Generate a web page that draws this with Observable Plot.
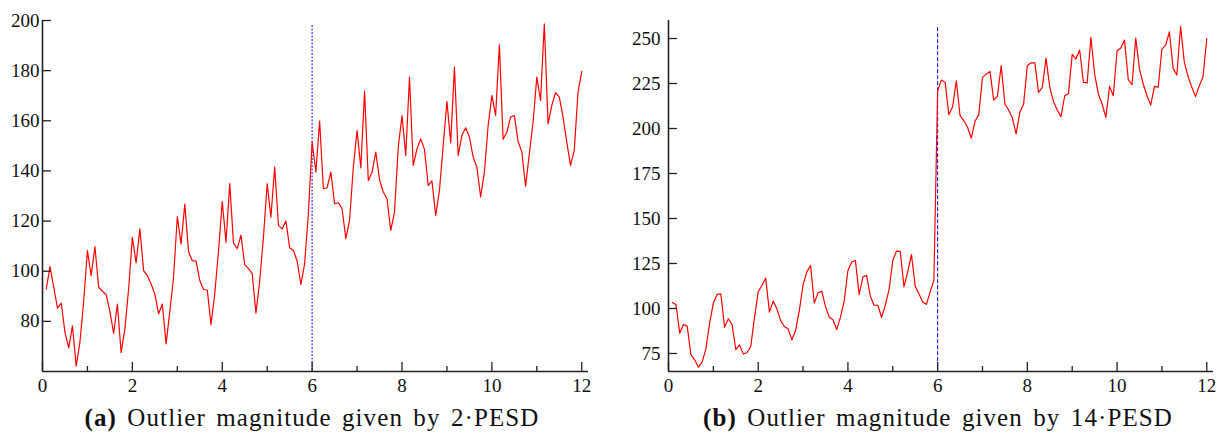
<!DOCTYPE html>
<html><head><meta charset="utf-8">
<script src="https://cdn.jsdelivr.net/npm/d3@7"></script>
<script src="https://cdn.jsdelivr.net/npm/@observablehq/plot@0.6"></script>
<style>
body{margin:0;background:#fff;}
#wrap{position:relative;width:1230px;height:436px;overflow:hidden;}
#pa{position:absolute;left:0;top:0;}
#pb{position:absolute;left:615px;top:0;}
svg text{font-family:"Liberation Serif",serif !important;}
.cap{position:absolute;top:404px;font-family:"Liberation Serif",serif;font-size:25px;line-height:28px;letter-spacing:1.1px;word-spacing:3px;white-space:nowrap;transform:translateX(-50%);color:#111;}
</style></head><body>
<div id="wrap"><div id="pa"></div><div id="pb"></div>
<div class="cap" style="left:312px"><b>(a)</b> Outlier magnitude given by 2·PESD</div>
<div class="cap" style="left:938px"><b>(b)</b> Outlier magnitude given by 14·PESD</div>
</div>
<script>
const valuesA = [92.9,101.8,93.6,85.3,87.3,75.6,69.4,78.2,62.1,71.8,88,108.2,
98.2,109.8,93.6,92.0,90.7,84.0,75.2,86.9,67.5,77,93,113.5,
103.3,116.9,100.2,98.2,94.9,90.9,83,86.9,71,84,97.6,121.8,
110.9,126.8,107.8,104.2,104,96.3,92.7,92.5,78.7,91,108,127.8,
111.6,134.9,111.2,109,114.4,102.6,101,99,83.3,96,113.6,134.9,
121.6,141.5,118.3,116.9,120,109.4,108.3,104,94.7,103,122.9,151.5,
139.5,159.9,132.9,133.3,139.5,126.9,127.3,124.9,113,120.3,141.5,156.1,
141.2,171.8,136.2,139.5,147.5,136.5,131.6,128.9,116.3,123.6,149.5,162.1,
146.2,177.4,142.2,148.8,152.8,148.6,134.2,136,122.2,132.2,150.2,167.7,
151.2,181.4,146.2,154.2,157.2,153.5,145.5,141.5,129.6,139.5,158.1,170.1,
162.1,190.3,152.6,155.5,161.5,162.1,151.8,147.5,133.9,146.8,159.5,177.4,
168.1,198.7,158.8,166.1,171.2,169.4,161.5,151.5,142.2,148.2,171.4,179.7];

const valuesB = [103.3,102.2,86.3,91.1,90.2,74.4,71.5,67.4,70.2,77.6,91.9,103,
107.8,108.1,89.6,94.3,91.1,77.2,79.8,74.8,75.4,78.9,94.8,109.4,
112.8,116.9,98,104.1,99.8,93.3,90,88.7,82.6,87.8,98.9,113.3,
120.2,123.9,103,108.7,109.6,101.1,95.2,93.7,88.3,95.2,104.1,121.1,
125.8,126.7,107.7,117.5,118.4,106.8,101.8,101.8,95,101.8,110.5,126.7,
131.9,131.7,112,120.3,129.9,112.3,108.2,103.6,102.3,109.2,115.6,221,
226.9,225.6,207.7,212.1,226.5,207.1,204.4,200.7,194.6,204,207.7,228.4,
230.2,231.7,215.8,218,234.9,213.6,210.3,205.8,197,209,213.6,234.9,
236.5,236.5,220.1,222.9,239.1,222.9,214.9,210.3,206.6,218.2,219.5,241.2,
238.6,243.6,225.6,225.3,250.6,230.2,219.2,213.6,206.2,223.4,218.2,243.2,
244.7,249.1,227.1,224.3,250.2,233,224.7,218.2,213,223.4,222.9,244.1,
246.3,253.7,233.4,229.7,256.7,236.7,228.8,222.9,217.7,223.8,228.8,250];

const monthIndex = d3.range(1, 145);
const xMajor = [0, 2, 4, 6, 8, 10, 12];
const xMinor = [1, 3, 5, 7, 9, 11];
const yTicksA = [80, 100, 120, 140, 160, 180, 200];
const yTicksB = [75, 100, 125, 150, 175, 200, 225, 250];
const breakX = 6;
const serif = "Liberation Serif";

function panel(o) {
  const W = 615, H = 400, mT = 20, mB = 29;
  const plotH = H - mT - mB;
  const plotW = W - o.marginLeft - o.marginRight;
  const data = monthIndex.map((m, i) => ({t: m / 12, v: o.values[i]}));
  const axisColor = "#222";
  return Plot.plot({
    width: W, height: H, marginTop: mT, marginBottom: mB,
    marginLeft: o.marginLeft, marginRight: o.marginRight,
    x: {domain: [0, 12.15]},
    y: {domain: o.yDomain},
    style: {fontFamily: serif, fontSize: "19px", color: "#111", background: "transparent"},
    marks: [
      Plot.axisX(xMajor, {tickSize: 0, tickPadding: 7, fontSize: 19, fontFamily: serif, label: null}),
      Plot.axisY(o.yTicks, {tickSize: 0, tickPadding: o.tickPadding, fontSize: 19, fontFamily: serif, label: null}),
      Plot.ruleX([breakX], {y1: o.ruleTop, y2: o.yDomain[0], stroke: o.ruleStroke, strokeDasharray: o.ruleDash, strokeWidth: o.ruleWidth}),
      Plot.line(data, {x: "t", y: "v", stroke: "#ff0000", strokeWidth: 1.2}),
      Plot.tickX(xMajor, {x: d => d, insetTop: plotH - 9, stroke: axisColor, strokeWidth: 1.3}),
      Plot.tickX(xMinor, {x: d => d, insetTop: plotH - 5, stroke: axisColor, strokeWidth: 1.3}),
      Plot.tickY(o.yTicks, {y: d => d, insetRight: plotW - 9, stroke: axisColor, strokeWidth: 1.3}),
      Plot.ruleX([0], {stroke: axisColor, strokeWidth: 1.6}),
      Plot.ruleY([o.yDomain[0]], {stroke: axisColor, strokeWidth: 1.6})
    ]
  });
}

document.getElementById("pa").append(panel({
  values: valuesA, yDomain: [60, 200], yTicks: yTicksA,
  marginLeft: 42, marginRight: 27, tickPadding: 3,
  ruleTop: 198, ruleStroke: "#5050ff", ruleDash: "2,1.5", ruleWidth: 1.4
}));
document.getElementById("pb").append(panel({
  values: valuesB, yDomain: [65, 260], yTicks: yTicksB,
  marginLeft: 53, marginRight: 17, tickPadding: 8,
  ruleTop: 256, ruleStroke: "#0000ee", ruleDash: "4,2", ruleWidth: 1
}));
</script>
</body></html>
